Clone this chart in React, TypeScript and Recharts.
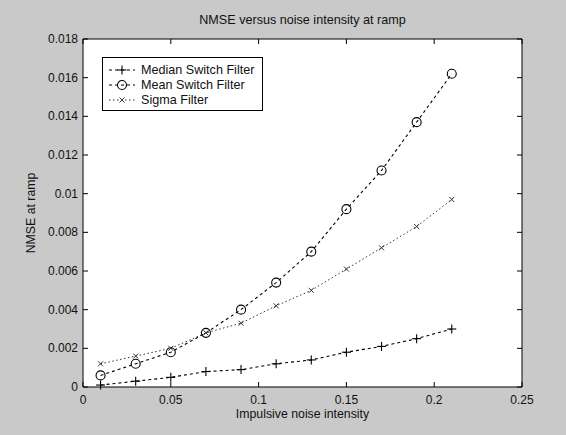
import React from 'react';
import { LineChart, Line, XAxis, YAxis, CartesianGrid, ReferenceLine, Legend, Label } from 'recharts';

// noise intensity values used in the experiment
const intensity = [0.01, 0.03, 0.05, 0.07, 0.09, 0.11, 0.13, 0.15, 0.17, 0.19, 0.21];

// NMSE
const medianSwitch = [0.0001, 0.0003, 0.0005, 0.0008, 0.0009, 0.0012, 0.0014, 0.0018, 0.0021, 0.0025, 0.003];
const meanSwitch = [0.0006, 0.0012, 0.0018, 0.0028, 0.004, 0.0054, 0.007, 0.0092, 0.0112, 0.0137, 0.0162];
const sigmaFilter = [0.0012, 0.0016, 0.002, 0.0028, 0.0033, 0.0042, 0.005, 0.0061, 0.0072, 0.0083, 0.0097];

const xTicks = [0, 0.05, 0.1, 0.15, 0.2, 0.25];
const yTicks = [0, 0.002, 0.004, 0.006, 0.008, 0.01, 0.012, 0.014, 0.016, 0.018];

const W = 566;
const H = 435;
const TOP = 39;
const RIGHT = 44;
const AXIS_W = 83;
const AXIS_H = 48;
const PLOT_BOTTOM = H - AXIS_H;
const PLOT_RIGHT = W - RIGHT;
const FONT = '"Liberation Sans", Arial, sans-serif';
const TICK = 5;

const data = intensity.map((x, i) => ({
    x,
    median: medianSwitch[i],
    mean: meanSwitch[i],
    sigma: sigmaFilter[i],
}));

const fmt = (v: number) => String(Number(v.toFixed(4)));

function XTick(props: any) {
    const { x, y, payload } = props;
    return (
        <g>
            <line x1={x} x2={x} y1={PLOT_BOTTOM} y2={PLOT_BOTTOM - TICK} stroke="#000" />
            <line x1={x} x2={x} y1={TOP} y2={TOP + TICK} stroke="#000" />
            <text x={x} y={y + 9} textAnchor="middle" fontSize={12} fontFamily={FONT} fill="#111">
                {fmt(payload.value)}
            </text>
        </g>
    );
}

function YTick(props: any) {
    const { x, y, payload } = props;
    return (
        <g>
            <line x1={AXIS_W} x2={AXIS_W + TICK} y1={y} y2={y} stroke="#000" />
            <line x1={PLOT_RIGHT} x2={PLOT_RIGHT - TICK} y1={y} y2={y} stroke="#000" />
            <text x={x + 3} y={y + 4} textAnchor="end" fontSize={12} fontFamily={FONT} fill="#111">
                {fmt(payload.value)}
            </text>
        </g>
    );
}

function PlusMark({ cx, cy }: { cx: number; cy: number }) {
    return (
        <g stroke="#000" strokeWidth={1.1}>
            <line x1={cx - 4.5} x2={cx + 4.5} y1={cy} y2={cy} />
            <line x1={cx} x2={cx} y1={cy - 4.5} y2={cy + 4.5} />
        </g>
    );
}

function CircleMark({ cx, cy }: { cx: number; cy: number }) {
    return <circle cx={cx} cy={cy} r={4.5} fill="none" stroke="#000" strokeWidth={1.1} />;
}

function CrossMark({ cx, cy }: { cx: number; cy: number }) {
    return (
        <g stroke="#333" strokeWidth={1}>
            <line x1={cx - 2.5} x2={cx + 2.5} y1={cy - 2.5} y2={cy + 2.5} />
            <line x1={cx - 2.5} x2={cx + 2.5} y1={cy + 2.5} y2={cy - 2.5} />
        </g>
    );
}

const series = [
    { key: 'median', name: 'Median Switch Filter', dash: '3 3', color: '#000', width: 1.1, Mark: PlusMark },
    { key: 'mean', name: 'Mean Switch Filter', dash: '3 3', color: '#000', width: 1.1, Mark: CircleMark },
    { key: 'sigma', name: 'Sigma Filter', dash: '1.5 2.5', color: '#333', width: 1, Mark: CrossMark },
];

function LegendBox() {
    return (
        <div
            style={{
                border: '1px solid #000',
                background: '#fff',
                padding: '4px 0 3px 5px',
                width: 154,
                fontFamily: FONT,
                fontSize: 12.6,
                color: '#111',
            }}
        >
            {series.map((s) => (
                <div key={s.key} style={{ display: 'flex', alignItems: 'center', height: 15 }}>
                    <svg width={28} height={14} style={{ marginRight: 5 }}>
                        <line x1={1} x2={27} y1={7} y2={7} stroke={s.color} strokeDasharray={s.dash} strokeWidth={s.width} />
                        <s.Mark cx={14} cy={7} />
                    </svg>
                    <span>{s.name}</span>
                </div>
            ))}
        </div>
    );
}

export default function App() {
    return (
        <div style={{ position: 'absolute', left: 0, top: 0, width: W, height: H, background: '#c9c9c9' }}>
            <div
                style={{
                    position: 'absolute',
                    left: AXIS_W,
                    width: PLOT_RIGHT - AXIS_W,
                    top: 13,
                    textAlign: 'center',
                    fontFamily: FONT,
                    fontSize: 12.6,
                    color: '#111',
                }}
            >
                NMSE versus noise intensity at ramp
            </div>
            <LineChart width={W} height={H} data={data} margin={{ top: TOP, right: RIGHT, bottom: 0, left: 0 }}>
                <CartesianGrid horizontal={false} vertical={false} fill="#fff" />
                <XAxis
                    dataKey="x"
                    type="number"
                    domain={[0, 0.25]}
                    ticks={xTicks}
                    height={AXIS_H}
                    axisLine={{ stroke: '#000' }}
                    tickLine={false}
                    tick={<XTick />}
                    interval={0}
                >
                    <Label
                        value="Impulsive noise intensity"
                        position="insideBottom"
                        offset={17}
                        fontSize={12.3}
                        fontFamily={FONT}
                        fill="#111"
                    />
                </XAxis>
                <YAxis
                    type="number"
                    domain={[0, 0.018]}
                    ticks={yTicks}
                    width={AXIS_W}
                    axisLine={{ stroke: '#000' }}
                    tickLine={false}
                    tick={<YTick />}
                    interval={0}
                >
                    <Label
                        content={({ viewBox }: any) => {
                            const cx = viewBox.x + 35;
                            const cy = viewBox.y + viewBox.height / 2;
                            return (
                                <text
                                    x={cx}
                                    y={cy}
                                    transform={`rotate(-90, ${cx}, ${cy})`}
                                    textAnchor="middle"
                                    fontSize={12.3}
                                    fontFamily={FONT}
                                    fill="#111"
                                >
                                    NMSE at ramp
                                </text>
                            );
                        }}
                    />
                </YAxis>
                <ReferenceLine y={0.018} stroke="#000" />
                <ReferenceLine x={0.25} stroke="#000" />
                {series.map((s) => (
                    <Line
                        key={s.key}
                        dataKey={s.key}
                        name={s.name}
                        stroke={s.color}
                        strokeWidth={s.width}
                        strokeDasharray={s.dash}
                        isAnimationActive={false}
                        dot={(p: any) => <s.Mark key={`${s.key}-${p.index}`} cx={p.cx} cy={p.cy} />}
                        activeDot={false}
                    />
                ))}
                <Legend
                    layout="vertical"
                    align="center"
                    verticalAlign="middle"
                    content={() => <LegendBox />}
                    wrapperStyle={{ left: 102, top: 57, width: 162, height: 'auto' }}
                />
            </LineChart>
        </div>
    );
}
